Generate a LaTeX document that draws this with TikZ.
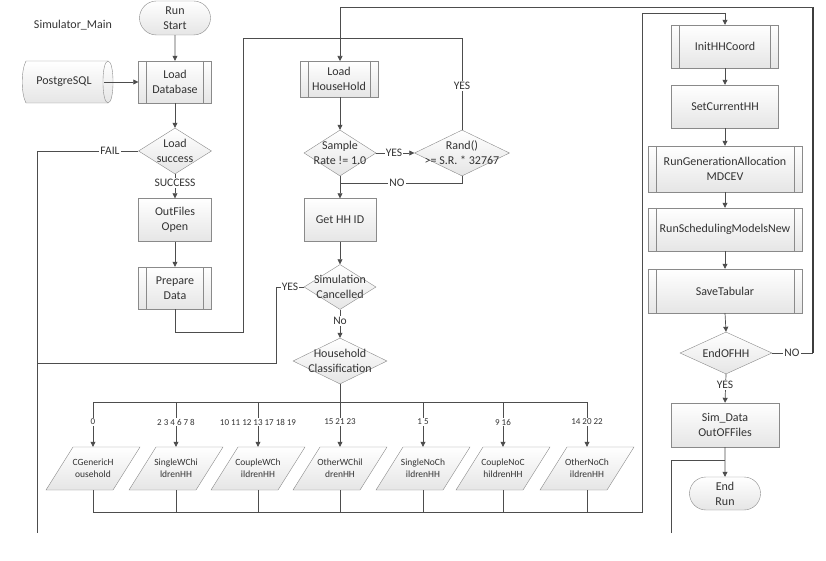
\documentclass[tikz,border=0pt]{standalone}
\usepackage{fontspec}
\setmainfont{Carlito}
\usetikzlibrary{shapes.geometric,shapes.misc,arrows.meta}
\definecolor{ln}{HTML}{4D4D4D}
\definecolor{bd}{HTML}{8A8A8A}
\definecolor{tx}{HTML}{333333}
\tikzset{
  shade/.style={draw=bd, top color=white, bottom color=gray!20},
  box/.style={rectangle, shade, text=tx, align=center, inner sep=1pt, font=\fontsize{12}{15}\selectfont},
  subproc/.style={box, path picture={\draw[bd] ([xshift=8pt]path picture bounding box.north west) -- ([xshift=8pt]path picture bounding box.south west) ([xshift=-8pt]path picture bounding box.north east) -- ([xshift=-8pt]path picture bounding box.south east);}},
  term/.style={rounded rectangle, shade, text=tx, align=center, inner sep=1pt, font=\fontsize{12}{15}\selectfont, minimum width=73pt, minimum height=34pt},
  decision/.style={diamond, shade, inner sep=0pt},
  dlbl/.style={align=center, text=tx, inner sep=0pt, font=\fontsize{12}{15}\selectfont},
  iotext/.style={rectangle, text=tx, align=center, inner sep=0pt, minimum width=94pt, minimum height=43pt, font=\fontsize{9.5}{12}\selectfont},
  conn/.style={draw=ln, line width=0.7pt},
  arr/.style={conn, -{Triangle[length=5pt,width=5pt]}},
  lbl/.style={fill=white, inner sep=1pt, text=tx, font=\fontsize{11.5}{14}\selectfont},
  nlbl/.style={fill=white, inner sep=1pt, text=tx, font=\fontsize{9}{11}\selectfont},
}
\begin{document}
\begin{tikzpicture}[x=1pt,y=-1pt]
\useasboundingbox (0,0) rectangle (826,561);

\node[text=tx, font=\fontsize{12}{15}\selectfont] (title) at (73,25) {Simulator\_Main};

% left column
\node[term] (start) at (175,18) {Run\\Start};
\node[subproc, minimum width=73pt, minimum height=42pt] (loaddb) at (175,82) {Load\\Database};
\path[shade] (26,61) -- (108,61) .. controls (114.7,61) and (114.7,103) .. (108,103) -- (26,103) .. controls (21,94) and (21,70) .. (26,61) -- cycle;
\draw[bd] (108,61) .. controls (101.3,61) and (101.3,103) .. (108,103);
\node[inner sep=0pt, minimum width=90pt, minimum height=42pt, text=tx, font=\fontsize{12}{15}\selectfont] (pg) at (64,82) {PostgreSQL};
\node[decision, minimum width=73pt, minimum height=46pt, label={[dlbl]center:Load\\success}] (loadok) at (175,151) {};
\node[box, minimum width=73pt, minimum height=43pt] (outfiles) at (175,220) {OutFiles\\Open};
\node[subproc, minimum width=73pt, minimum height=42pt] (prep) at (175,288) {Prepare\\Data};

% middle column
\node[subproc, minimum width=78pt, minimum height=36pt] (loadhh) at (339,79) {Load\\HouseHold};
\node[decision, minimum width=72pt, minimum height=46pt, label={[dlbl]center:Sample\\Rate != 1.0}] (sample) at (340,153) {};
\node[decision, minimum width=95pt, minimum height=46pt, label={[dlbl]center:Rand()\\>= S.R. * 32767}] (rand) at (462,153) {};
\node[box, minimum width=72pt, minimum height=43pt] (gethh) at (340,220) {Get HH ID};
\node[decision, minimum width=72pt, minimum height=45pt, label={[dlbl]center:Simulation\\Cancelled}] (simcan) at (340,287) {};
\node[decision, minimum width=94pt, minimum height=46pt, label={[dlbl]center:Household\\Classification}] (hhclass) at (340,361) {};

% parallelograms
\foreach \n/\x/\t in {p1/93/{CGenericH\\ousehold}, p2/176/{SingleWChi\\ldrenHH}, p3/258/{CoupleWCh\\ildrenHH}, p4/340/{OtherWChil\\drenHH}, p5/423/{SingleNoCh\\ildrenHH}, p6/503/{CoupleNoC\\hildrenHH}, p7/587/{OtherNoCh\\ildrenHH}}{
  \path[shade] (\x-20,447) -- (\x+47,447) -- (\x+20,490) -- (\x-47,490) -- cycle;
  \node[iotext] (\n) at (\x,468.5) {\t};
}

% right column
\node[subproc, minimum width=107pt, minimum height=43pt] (init) at (725,46.5) {InitHHCoord};
\node[box, minimum width=107pt, minimum height=43pt] (setcur) at (725,106.5) {SetCurrentHH};
\node[subproc, minimum width=154pt, minimum height=46pt] (rungen) at (725,169) {RunGenerationAllocation\\MDCEV};
\node[subproc, minimum width=154pt, minimum height=43pt] (runsched) at (725,229.5) {RunSchedulingModelsNew};
\node[subproc, minimum width=154pt, minimum height=44pt] (savetab) at (725,291) {SaveTabular};
\node[decision, minimum width=92pt, minimum height=42pt, label={[dlbl]center:EndOFHH}] (endhh) at (726,353) {};
\node[box, minimum width=108pt, minimum height=44pt] (simdata) at (725,425) {Sim\_Data\\OutOFFiles};
\node[term, minimum height=33pt] (endrun) at (725,493.5) {End\\Run};

% coordinates
\coordinate (failend) at (37,533);
\coordinate (rightend) at (671,533);
\coordinate (bus) at (340,402);
\coordinate (busl) at (93,402);
\coordinate (busr) at (587,402);
\coordinate (botl) at (93,512);
\coordinate (botr) at (642,512);

% connectors left
\draw[arr] (start) -- (loaddb);
\draw[arr] ([xshift=-5pt]pg.east) -- (loaddb.west);
\draw[arr] (loaddb) -- (loadok);
\draw[arr] (loadok.south) -- (outfiles.north);
\draw[conn] (loadok.west) -- (37,151) -- (failend);
\draw[arr] (outfiles) -- (prep);
\draw[conn] (prep.south) -- (175,332) -- (243,332) -- (243,38) -- (462,38) -- (rand.north);

% middle
\draw[conn] (endhh.east) -- (813,353);
\draw[draw=ln!80!black, line width=1.4pt] (813,353) -- (813,7);
\draw[arr] (813,7) -- (340,7) -- (340,61);
\draw[arr] (loadhh.south -| sample.north) -- (sample.north);
\draw[arr] (sample.east) -- (rand.west);
\draw[arr] (sample.south) -- (gethh.north);
\draw[conn] (rand.south) -- (462,183) -- (340,183);
\draw[arr] (gethh) -- (simcan);
\draw[conn] (simcan.west) -- (276,287) -- (276,363) -- (37,363);
\draw[arr] (simcan) -- (hhclass);
\draw[conn] (hhclass.south) -- (bus);
\draw[conn] (busl) -- (busr);
\foreach \p in {p1,p2,p3,p4,p5,p6,p7}{
  \draw[arr] (\p.center |- busl) -- (\p.north);
  \draw[conn] (\p.south) -- (\p.center |- botl);
}
\draw[conn] (botl) -- (botr) -- (642,13) -- (725,13);
\draw[arr] (725,13) -- (init.north);

% right
\draw[arr] (init) -- (setcur);
\draw[arr] (setcur) -- (rungen);
\draw[arr] (rungen) -- (runsched);
\draw[arr] (runsched) -- (savetab);
\draw[arr] (savetab.south) -- (endhh.north);
\draw[arr] (endhh.south) -- (simdata.north);
\draw[arr] (simdata) -- (endrun);
\draw[conn] (rightend) -- (671,460) -- (725,460);

% labels
\node[lbl] (lsucc) at (175,183) {SUCCESS};
\node[lbl] (lfail) at (110,151) {FAIL};
\node[lbl] (lyes1) at (462,86) {YES};
\node[lbl] (lyes2) at (394,153) {YES};
\node[lbl] (lno1) at (397,183) {NO};
\node[lbl] (lyes3) at (290,287) {YES};
\node[lbl] (lno2) at (340,321) {No};
\node[lbl] (lno3) at (792,353) {NO};
\node[lbl] (lyes4) at (725,385) {YES};
\node[nlbl] (n1) at (93,422) {0};
\node[nlbl] (n2) at (176,422) {2 3 4 6 7 8};
\node[nlbl] (n3) at (258,422) {10 11 12 13 17 18 19};
\node[nlbl] (n4) at (340,422) {15 21 23};
\node[nlbl] (n5) at (423,422) {1 5};
\node[nlbl] (n6) at (503,422) {9 16};
\node[nlbl] (n7) at (587,422) {14 20 22};
\end{tikzpicture}
\end{document}
